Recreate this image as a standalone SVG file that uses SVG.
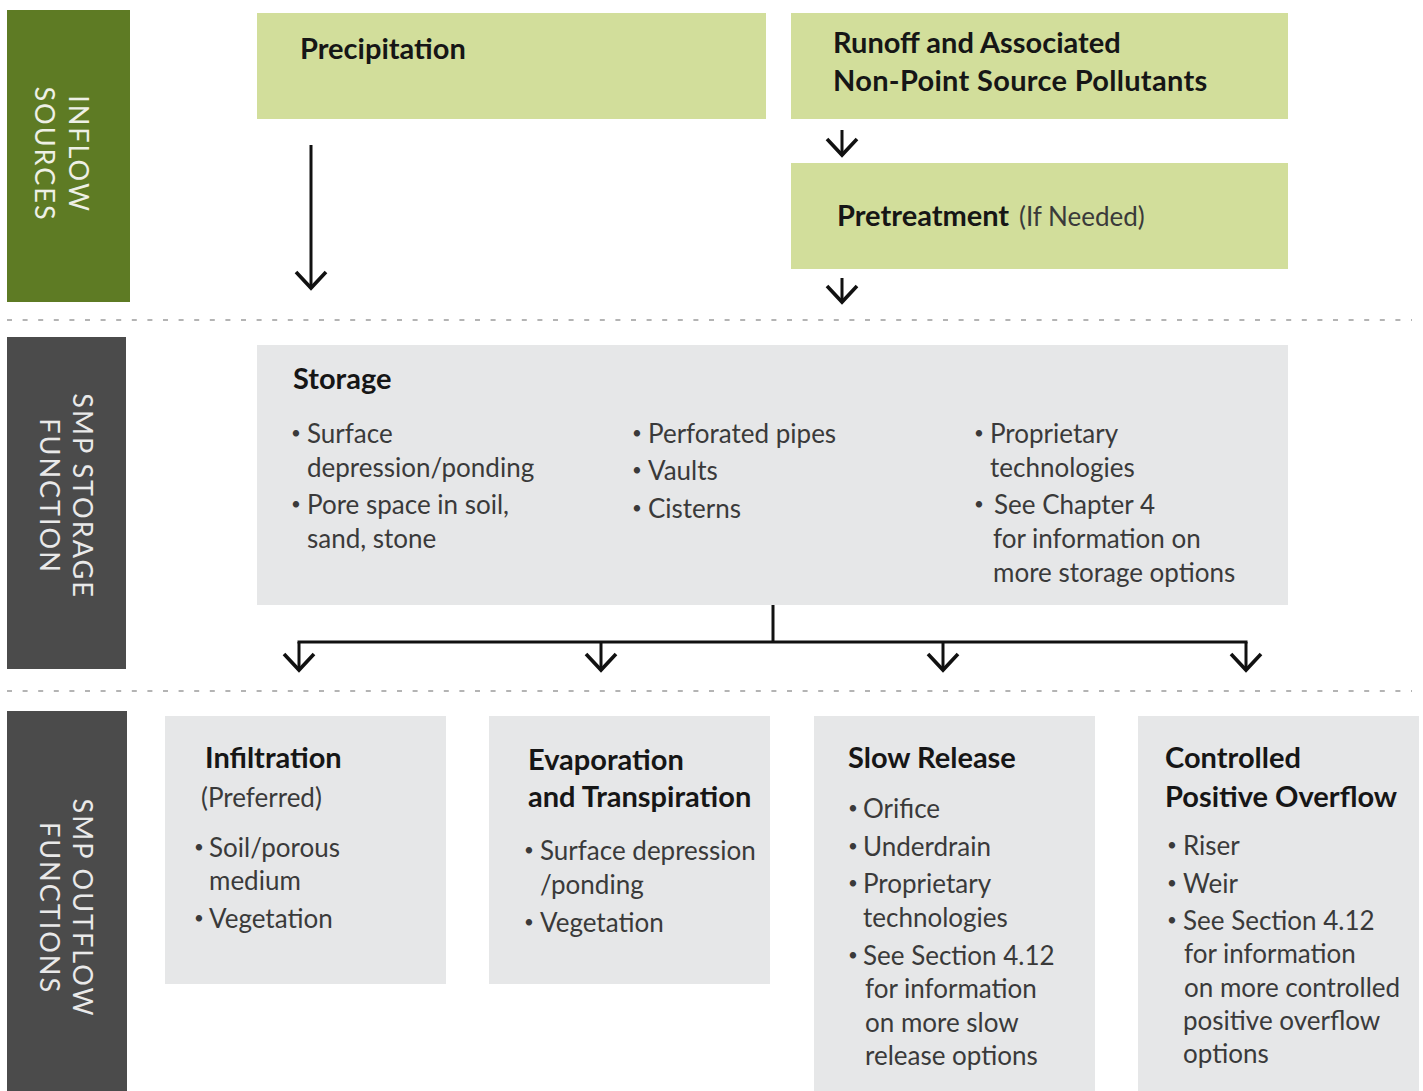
<svg xmlns="http://www.w3.org/2000/svg" width="1423" height="1091" viewBox="0 0 1423 1091">
<defs>
<style>
.band{font-family:Lato,"Liberation Sans",sans-serif;font-size:27px;letter-spacing:2px;text-anchor:middle}
.green{fill:#d2de9b}
.gray{fill:#e6e7e8}
.h{font-family:Lato,"Liberation Sans",sans-serif;font-size:29px;font-weight:bold;fill:#161616}
.b{font-family:Lato,"Liberation Sans",sans-serif;font-size:26px;fill:#3a3a3a}
.d{font-family:Lato,"Liberation Sans",sans-serif;font-size:17px;fill:#3a3a3a}
.sep{stroke:#b4b4b4;stroke-width:2;stroke-dasharray:5 10.6;fill:none}
.ln{stroke:#111;stroke-width:3;fill:none}
</style>
<marker id="arr" markerUnits="userSpaceOnUse" markerWidth="36" markerHeight="24" viewBox="-18 -20 36 24" refX="0" refY="0">
<path d="M-15 -16 L0 0 L15 -16" fill="none" stroke="#111" stroke-width="3.6"/>
</marker>
</defs>
<rect width="1423" height="1091" fill="#ffffff"/>

<g id="band-inflow">
<rect x="7" y="10" width="123" height="292" fill="#5e7b24"/>
<text class="band" fill="#eef0e6" transform="translate(69 154) rotate(90)">INFLOW</text>
<text class="band" fill="#eef0e6" transform="translate(35 154) rotate(90)">SOURCES</text>
</g>
<g id="band-storage">
<rect x="7" y="337" width="119" height="332" fill="#4b4b4b"/>
<text class="band" fill="#e9e9e9" transform="translate(73 496) rotate(90)">SMP STORAGE</text>
<text class="band" fill="#e9e9e9" transform="translate(40 496) rotate(90)">FUNCTION</text>
</g>
<g id="band-outflow">
<rect x="7" y="711" width="120" height="380" fill="#4b4b4b"/>
<text class="band" fill="#e9e9e9" transform="translate(73 908) rotate(90)">SMP OUTFLOW</text>
<text class="band" fill="#e9e9e9" transform="translate(40 908) rotate(90)">FUNCTIONS</text>
</g>

<g id="separators">
<line class="sep" x1="7" y1="320" x2="1412" y2="320"/>
<line class="sep" x1="7" y1="691" x2="1412" y2="691"/>
</g>

<g id="precipitation">
<rect class="green" x="257" y="13" width="509" height="106"/>
<text class="h" x="300" y="59">Precipitation</text>
</g>
<g id="runoff">
<rect class="green" x="791" y="13" width="497" height="106"/>
<text class="h" x="833" y="53">Runoff and Associated</text>
<text class="h" x="833" y="91" letter-spacing="0.3">Non-Point Source Pollutants</text>
</g>
<g id="pretreatment">
<rect class="green" x="791" y="163" width="497" height="106"/>
<text class="h" x="837" y="226">Pretreatment</text>
<text class="b" x="1019" y="226" font-size="28">(If Needed)</text>
</g>

<g id="storage">
<rect class="gray" x="257" y="345" width="1031" height="260"/>
<text class="h" x="293" y="389">Storage</text>
<text class="d" x="291" y="439">•</text><text class="b" x="307" y="443">Surface</text>
<text class="b" x="307" y="477">depression/ponding</text>
<text class="d" x="291" y="510">•</text><text class="b" x="307" y="514">Pore space in soil,</text>
<text class="b" x="307" y="548">sand, stone</text>
<text class="d" x="632" y="439">•</text><text class="b" x="648" y="443">Perforated pipes</text>
<text class="d" x="632" y="476">•</text><text class="b" x="648" y="480">Vaults</text>
<text class="d" x="632" y="514">•</text><text class="b" x="648" y="518">Cisterns</text>
<text class="d" x="974" y="439">•</text><text class="b" x="990" y="443">Proprietary</text>
<text class="b" x="990" y="477">technologies</text>
<text class="d" x="974" y="510">•</text><text class="b" x="994" y="514">See Chapter 4</text>
<text class="b" x="993" y="548">for information on</text>
<text class="b" x="993" y="582">more storage options</text>
</g>

<g id="infiltration">
<rect class="gray" x="165" y="716" width="281" height="268"/>
<text class="h" x="205" y="768">Infiltration</text>
<text class="b" x="201" y="807">(Preferred)</text>
<text class="d" x="194" y="853">•</text><text class="b" x="209" y="857">Soil/porous</text>
<text class="b" x="209" y="890">medium</text>
<text class="d" x="194" y="924">•</text><text class="b" x="209" y="928">Vegetation</text>
</g>
<g id="evaporation">
<rect class="gray" x="489" y="716" width="281" height="268"/>
<text class="h" x="528" y="770">Evaporation</text>
<text class="h" x="528" y="807">and Transpiration</text>
<text class="d" x="524" y="856">•</text><text class="b" x="540" y="860">Surface depression</text>
<text class="b" x="540" y="894">/ponding</text>
<text class="d" x="524" y="928">•</text><text class="b" x="540" y="932">Vegetation</text>
</g>
<g id="slow-release">
<rect class="gray" x="814" y="716" width="281" height="375"/>
<text class="h" x="848" y="768">Slow Release</text>
<text class="d" x="848" y="814">•</text><text class="b" x="863" y="818">Orifice</text>
<text class="d" x="848" y="852">•</text><text class="b" x="863" y="856">Underdrain</text>
<text class="d" x="848" y="889">•</text><text class="b" x="863" y="893">Proprietary</text>
<text class="b" x="863" y="927">technologies</text>
<text class="d" x="848" y="961">•</text><text class="b" x="863" y="965">See Section 4.12</text>
<text class="b" x="865" y="998">for information</text>
<text class="b" x="865" y="1032">on more slow</text>
<text class="b" x="865" y="1065">release options</text>
</g>
<g id="controlled-overflow">
<rect class="gray" x="1138" y="716" width="281" height="375"/>
<text class="h" x="1165" y="768">Controlled</text>
<text class="h" x="1165" y="807">Positive Overflow</text>
<text class="d" x="1167" y="851">•</text><text class="b" x="1183" y="855">Riser</text>
<text class="d" x="1167" y="889">•</text><text class="b" x="1183" y="893">Weir</text>
<text class="d" x="1167" y="926">•</text><text class="b" x="1183" y="930">See Section 4.12</text>
<text class="b" x="1184" y="963">for information</text>
<text class="b" x="1184" y="997">on more controlled</text>
<text class="b" x="1183" y="1030">positive overflow</text>
<text class="b" x="1183" y="1063">options</text>
</g>

<g id="connectors">
<line class="ln" x1="311" y1="145" x2="311" y2="288" marker-end="url(#arr)"/>
<line class="ln" x1="842" y1="130" x2="842" y2="155" marker-end="url(#arr)"/>
<line class="ln" x1="842" y1="278" x2="842" y2="302" marker-end="url(#arr)"/>
<line class="ln" x1="773" y1="605" x2="773" y2="642"/>
<line class="ln" x1="297.5" y1="642" x2="1247.5" y2="642"/>
<line class="ln" x1="299" y1="642" x2="299" y2="670" marker-end="url(#arr)"/>
<line class="ln" x1="601" y1="642" x2="601" y2="670" marker-end="url(#arr)"/>
<line class="ln" x1="943" y1="642" x2="943" y2="670" marker-end="url(#arr)"/>
<line class="ln" x1="1246" y1="642" x2="1246" y2="670" marker-end="url(#arr)"/>
</g>
</svg>
